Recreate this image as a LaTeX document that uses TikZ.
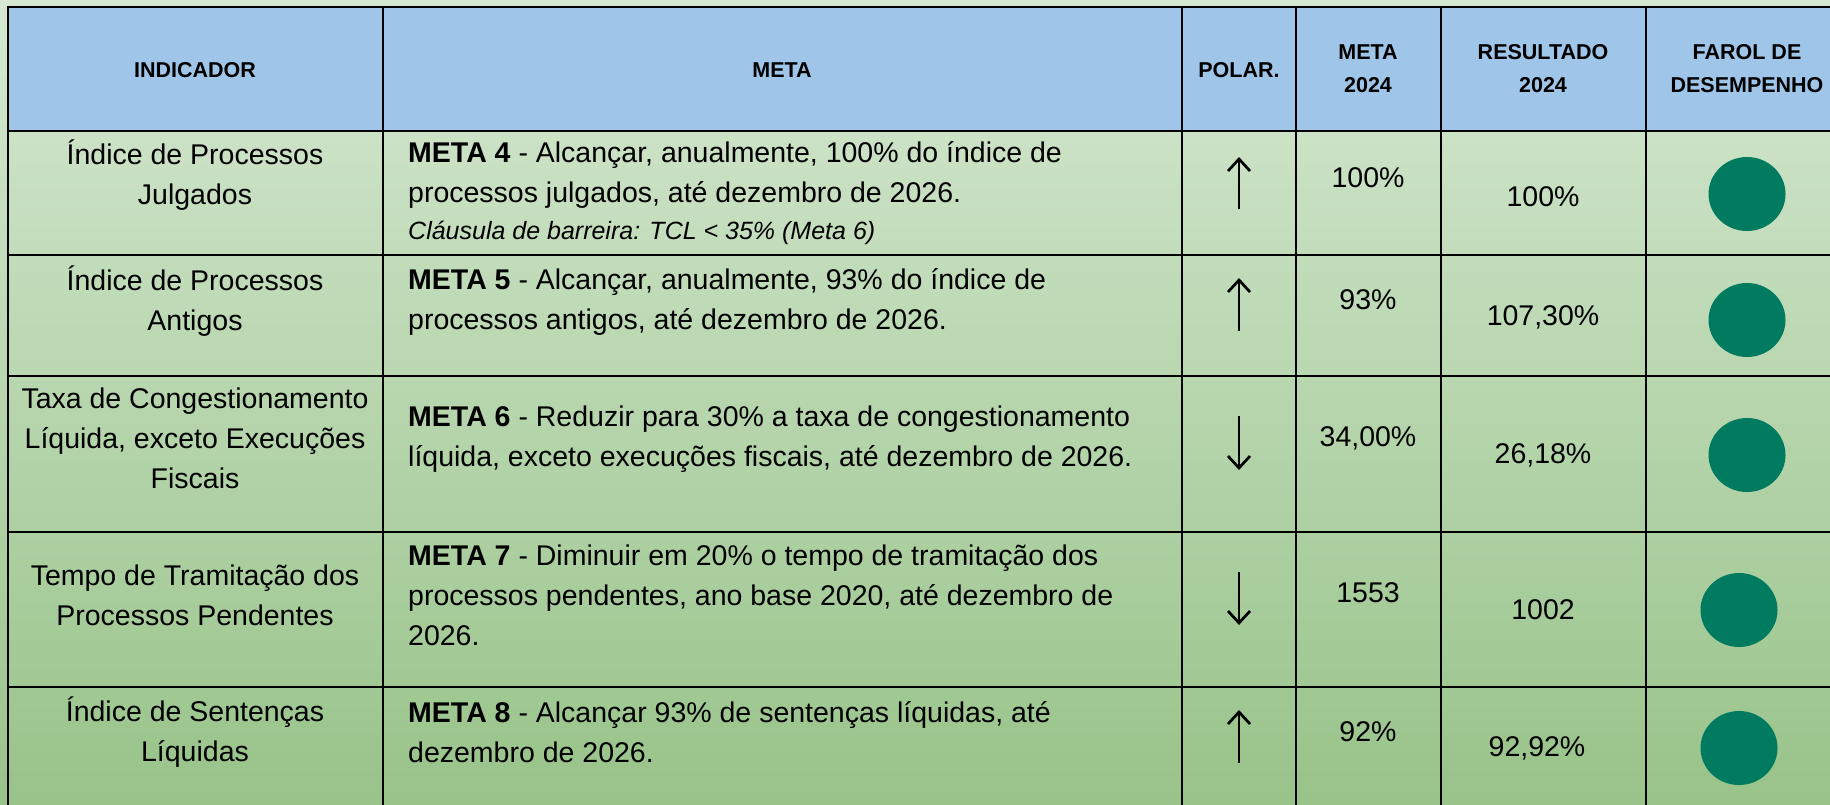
\documentclass[tikz,border=0pt]{standalone}
\usepackage{fontspec}
\setmainfont{Liberation Sans}
\usetikzlibrary{arrows.meta,shapes.geometric}
\definecolor{bgtop}{RGB}{214,232,210}
\definecolor{bgbot}{RGB}{152,195,137}
\definecolor{hdrblue}{RGB}{159,197,232}
\definecolor{farol}{RGB}{0,123,95}
\begin{document}
\begin{tikzpicture}[x=1pt,y=-1pt,
  hdr/.style={font=\fontsize{21.5}{33}\selectfont\bfseries, align=center, inner sep=0pt},
  body/.style={font=\fontsize{28.5}{40}\selectfont, align=center, inner sep=0pt},
  metatxt/.style={font=\fontsize{28.5}{40}\selectfont, align=left, anchor=west, inner sep=0pt},
  note/.style={font=\fontsize{25}{30}\selectfont\itshape, anchor=west, inner sep=0pt},
  num/.style={font=\fontsize{28.5}{34}\selectfont, inner sep=0pt},
  gridline/.style={line width=2.2pt, draw=black},
  polar/.style={line width=2.7pt, -{Straight Barb[length=12pt,width=22pt]}},
  farolc/.style={ellipse, fill=farol, draw=none, inner sep=0pt, minimum width=77pt, minimum height=74pt}
]
% background
\shade[top color=bgtop, bottom color=bgbot] (0,0) rectangle (1830,804);
\useasboundingbox (0,0) rectangle (1830,804);
% header band
\fill[hdrblue] (8,7) rectangle (1830,131);
% grid
\foreach \yy in {7,131,255,376,532,687}
  \draw[gridline] (8,\yy) -- (1832,\yy);
\foreach \xx in {8,383,1182,1296,1441,1646}
  \draw[gridline] (\xx,6) -- (\xx,806);

% header texts
\node[hdr] (hInd) at (195,70) {INDICADOR};
\node[hdr] (hMeta) at (782,70) {META};
\node[hdr] (hPol) at (1239,70) {POLAR.};
\node[hdr] (hM24) at (1368,69) {META\\2024};
\node[hdr] (hRes) at (1543,69) {RESULTADO\\2024};
\node[hdr] (hFar) at (1747,69) {FAROL DE\\DESEMPENHO};

% indicator column
\node[body] (i1) at (195,175) {Índice de Processos\\Julgados};
\node[body] (i2) at (195,301) {Índice de Processos\\Antigos};
\node[body] (i3) at (195,438) {Taxa de Congestionamento\\Líquida, exceto Execuções\\Fiscais};
\node[body] (i4) at (195,595) {Tempo de Tramitação dos\\Processos Pendentes};
\node[body] (i5) at (195,732) {Índice de Sentenças\\Líquidas};

% meta column
\node[metatxt] (m1) at (408,175) {\textbf{META 4} - Alcançar, anualmente, 100\% do índice de\\processos julgados, até dezembro de 2026.};
\node[note] (m1n) at (408,233) {Cláusula de barreira: TCL < 35\% (Meta 6)};
\node[metatxt] (m2) at (408,302) {\textbf{META 5} - Alcançar, anualmente, 93\% do índice de\\processos antigos, até dezembro de 2026.};
\node[metatxt] (m3) at (408,439) {\textbf{META 6} - Reduzir para 30\% a taxa de congestionamento\\líquida, exceto execuções fiscais, até dezembro de 2026.};
\node[metatxt] (m4) at (408,595) {\textbf{META 7} - Diminuir em 20\% o tempo de tramitação dos\\processos pendentes, ano base 2020, até dezembro de\\2026.};
\node[metatxt] (m5) at (408,732) {\textbf{META 8} - Alcançar 93\% de sentenças líquidas, até\\dezembro de 2026.};

% polarity arrows
\coordinate (a1s) at (1239,209); \coordinate (a1e) at (1239,157);
\coordinate (a2s) at (1239,331); \coordinate (a2e) at (1239,278);
\coordinate (a3s) at (1239,416); \coordinate (a3e) at (1239,470);
\coordinate (a4s) at (1239,572); \coordinate (a4e) at (1239,625);
\coordinate (a5s) at (1239,763); \coordinate (a5e) at (1239,710);
\draw[polar] (a1s) -- (a1e);
\draw[polar] (a2s) -- (a2e);
\draw[polar] (a3s) -- (a3e);
\draw[polar] (a4s) -- (a4e);
\draw[polar] (a5s) -- (a5e);

% meta 2024
\node[num] (t1) at (1368,178) {100\%};
\node[num] (t2) at (1368,300) {93\%};
\node[num] (t3) at (1368,438) {34,00\%};
\node[num] (t4) at (1368,593) {1553};
\node[num] (t5) at (1368,732) {92\%};

% resultado 2024
\node[num] (r1) at (1543,197) {100\%};
\node[num] (r2) at (1543,317) {107,30\%};
\node[num] (r3) at (1543,455) {26,18\%};
\node[num] (r4) at (1543,610) {1002};
\node[num] (r5) at (1537,748) {92,92\%};

% farol
\node[farolc] (f1) at (1747,194) {};
\node[farolc] (f2) at (1747,320) {};
\node[farolc] (f3) at (1747,455) {};
\node[farolc] (f4) at (1739,610) {};
\node[farolc] (f5) at (1739,748) {};
\end{tikzpicture}
\end{document}
